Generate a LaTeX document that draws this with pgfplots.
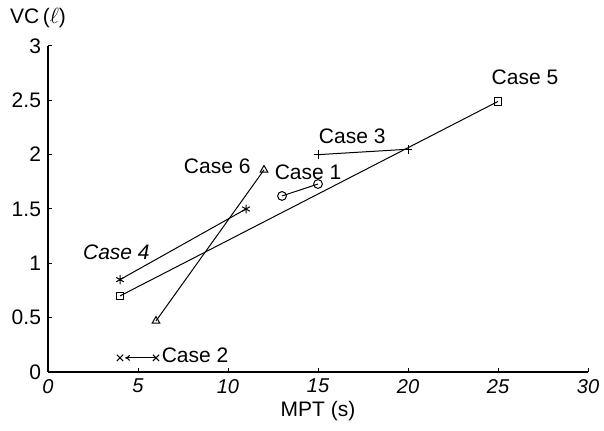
\documentclass[border=0pt]{standalone}
\usepackage{fontspec}
\setmainfont{Liberation Sans}
\usepackage{pgfplots}
\pgfplotsset{compat=1.18}
\usetikzlibrary{arrows.meta}
\begin{document}
\begin{tikzpicture}
\begin{axis}[
  at={(0,0)}, anchor=south west,
  scale only axis, width=270pt, height=163pt,
  xmin=0, xmax=30, ymin=0, ymax=3,
  axis x line=bottom, axis y line=left,
  axis line style={-, line width=0.6pt},
  xtick={0,5,...,30}, ytick={0,0.5,...,3},
  yticklabels={0,0.5,1,1.5,2,2.5,3},
  tick align=inside, major tick length=2pt,
  tick style={black, line width=0.5pt},
  /pgf/number format/assume math mode=true,
  xticklabel style={font=\itshape},
  ticklabel style={font=\fontsize{10.5}{12}\selectfont},
  xlabel={MPT (s)},
  xlabel style={font=\fontsize{10.5}{12}\selectfont, yshift=3pt},
  every axis plot/.append style={black, line width=0.5pt, mark size=2.2pt, mark options={solid, fill=white}},
  clip=false,
]
% Case 1
\addplot[mark=o] coordinates {(13,1.62) (15,1.73)};
% Case 2
\addplot[mark=x, {To[length=2.5pt,width=3pt]}-, shorten <=2.5pt] coordinates {(4,0.13) (6,0.13)};
% Case 3
\addplot[mark=+] coordinates {(15,2.0) (20,2.05)};
% Case 4
\addplot[mark=asterisk] coordinates {(4,0.85) (11,1.5)};
% Case 5
\addplot[mark=square, mark size=1.8pt] coordinates {(4,0.70) (25,2.49)};
% Case 6
\addplot[mark=triangle] coordinates {(6,0.47) (12,1.86)};

\begin{scope}[every node/.style={font=\fontsize{10.5}{12}\selectfont}]
\node at (axis cs:26.5,2.71) {Case 5};
\node at (axis cs:16.9,2.17) {Case 3};
\node at (axis cs:14.45,1.84) {Case 1};
\node at (axis cs:9.4,1.89) {Case 6};
\node[font=\fontsize{10.5}{12}\selectfont\itshape] at (axis cs:3.8,1.10) {Case 4};
\node[anchor=west, inner sep=0pt] at (axis cs:6.3,0.15) {Case 2};
\end{scope}
\end{axis}
\node[font=\fontsize{10.5}{12}\selectfont] at (-5pt,177pt) {VC\,($\ell$)};
\pgfresetboundingbox
\path (-24pt,-29.5pt) rectangle (278pt,186pt);
\end{tikzpicture}
\end{document}
